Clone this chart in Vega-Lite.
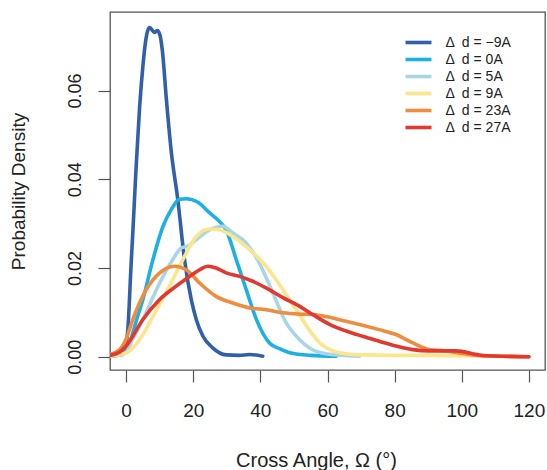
{
  "$schema": "https://vega.github.io/schema/vega-lite/v6.json",
  "autosize": {"type": "none"},
  "width": 435,
  "height": 358,
  "padding": {"left": 110, "top": 12, "right": 2, "bottom": 100},
  "background": "white",
  "config": {
    "font": "Liberation Sans",
    "view": {"stroke": "#555555", "strokeWidth": 1.3}
  },
  "data": {
    "values": [
      {"series": "−9A", "angle": -4.8, "density": 0.0002},
      {"series": "−9A", "angle": -2, "density": 0.0005},
      {"series": "−9A", "angle": -0.5, "density": 0.0015},
      {"series": "−9A", "angle": 0.5, "density": 0.006},
      {"series": "−9A", "angle": 1.5, "density": 0.021},
      {"series": "−9A", "angle": 2.0, "density": 0.028},
      {"series": "−9A", "angle": 3.0, "density": 0.043},
      {"series": "−9A", "angle": 4.0, "density": 0.056},
      {"series": "−9A", "angle": 5.0, "density": 0.0655},
      {"series": "−9A", "angle": 5.7, "density": 0.0705},
      {"series": "−9A", "angle": 6.4, "density": 0.0734},
      {"series": "−9A", "angle": 7.0, "density": 0.0742},
      {"series": "−9A", "angle": 7.8, "density": 0.0736},
      {"series": "−9A", "angle": 8.5, "density": 0.0731},
      {"series": "−9A", "angle": 9.3, "density": 0.0735},
      {"series": "−9A", "angle": 10.0, "density": 0.0727},
      {"series": "−9A", "angle": 10.8, "density": 0.069},
      {"series": "−9A", "angle": 12.0, "density": 0.058},
      {"series": "−9A", "angle": 13.4, "density": 0.0466},
      {"series": "−9A", "angle": 15.4, "density": 0.0354},
      {"series": "−9A", "angle": 17.4, "density": 0.0219},
      {"series": "−9A", "angle": 19.4, "density": 0.0129},
      {"series": "−9A", "angle": 20.9, "density": 0.0084},
      {"series": "−9A", "angle": 22.9, "density": 0.0046},
      {"series": "−9A", "angle": 25.8, "density": 0.002},
      {"series": "−9A", "angle": 29.8, "density": 0.0004},
      {"series": "−9A", "angle": 33.7, "density": 0.0003},
      {"series": "−9A", "angle": 36.8, "density": 0.0005},
      {"series": "−9A", "angle": 40.7, "density": 0.0001},

      {"series": "0A", "angle": -4.8, "density": 0.0001},
      {"series": "0A", "angle": -1, "density": 0.0005},
      {"series": "0A", "angle": 1, "density": 0.003},
      {"series": "0A", "angle": 3, "density": 0.008},
      {"series": "0A", "angle": 5, "density": 0.0129},
      {"series": "0A", "angle": 8, "density": 0.0219},
      {"series": "0A", "angle": 11, "density": 0.0294},
      {"series": "0A", "angle": 13.4, "density": 0.0331},
      {"series": "0A", "angle": 15.9, "density": 0.0355},
      {"series": "0A", "angle": 17.9, "density": 0.0356},
      {"series": "0A", "angle": 21.4, "density": 0.0348},
      {"series": "0A", "angle": 24.9, "density": 0.0324},
      {"series": "0A", "angle": 27.8, "density": 0.0305},
      {"series": "0A", "angle": 29.8, "density": 0.0286},
      {"series": "0A", "angle": 32.8, "density": 0.0219},
      {"series": "0A", "angle": 35.8, "density": 0.0151},
      {"series": "0A", "angle": 38.8, "density": 0.0084},
      {"series": "0A", "angle": 42.7, "density": 0.0031},
      {"series": "0A", "angle": 45.7, "density": 0.0018},
      {"series": "0A", "angle": 48.7, "density": 0.0009},
      {"series": "0A", "angle": 55, "density": 0.0003},
      {"series": "0A", "angle": 62.6, "density": 0.0001},

      {"series": "5A", "angle": -4.8, "density": 0.0001},
      {"series": "5A", "angle": 0, "density": 0.001},
      {"series": "5A", "angle": 2, "density": 0.004},
      {"series": "5A", "angle": 5, "density": 0.0084},
      {"series": "5A", "angle": 10, "density": 0.0166},
      {"series": "5A", "angle": 13.9, "density": 0.0219},
      {"series": "5A", "angle": 16.4, "density": 0.0245},
      {"series": "5A", "angle": 18.4, "density": 0.0249},
      {"series": "5A", "angle": 20.9, "density": 0.0264},
      {"series": "5A", "angle": 24.9, "density": 0.0286},
      {"series": "5A", "angle": 28.8, "density": 0.0294},
      {"series": "5A", "angle": 31.8, "density": 0.0279},
      {"series": "5A", "angle": 35.8, "density": 0.0256},
      {"series": "5A", "angle": 39.7, "density": 0.0211},
      {"series": "5A", "angle": 43.7, "density": 0.0144},
      {"series": "5A", "angle": 47.7, "density": 0.0076},
      {"series": "5A", "angle": 51.6, "density": 0.0039},
      {"series": "5A", "angle": 55, "density": 0.0018},
      {"series": "5A", "angle": 60, "density": 0.0006},
      {"series": "5A", "angle": 69.5, "density": 0.0001},

      {"series": "9A", "angle": -4.8, "density": 0.0001},
      {"series": "9A", "angle": 0, "density": 0.0008},
      {"series": "9A", "angle": 2, "density": 0.002},
      {"series": "9A", "angle": 5, "density": 0.005},
      {"series": "9A", "angle": 8, "density": 0.0091},
      {"series": "9A", "angle": 12.9, "density": 0.0159},
      {"series": "9A", "angle": 16.9, "density": 0.0219},
      {"series": "9A", "angle": 20.9, "density": 0.0271},
      {"series": "9A", "angle": 24.9, "density": 0.0288},
      {"series": "9A", "angle": 27.8, "density": 0.0286},
      {"series": "9A", "angle": 31.8, "density": 0.0271},
      {"series": "9A", "angle": 36.8, "density": 0.0241},
      {"series": "9A", "angle": 41.7, "density": 0.0204},
      {"series": "9A", "angle": 46.7, "density": 0.0151},
      {"series": "9A", "angle": 51.6, "density": 0.0095},
      {"series": "9A", "angle": 54.6, "density": 0.006},
      {"series": "9A", "angle": 57.6, "density": 0.0032},
      {"series": "9A", "angle": 63.5, "density": 0.0009},
      {"series": "9A", "angle": 70, "density": 0.0004},
      {"series": "9A", "angle": 80, "density": 0.0003},
      {"series": "9A", "angle": 90, "density": 0.0003},
      {"series": "9A", "angle": 100, "density": 0.0002},
      {"series": "9A", "angle": 110, "density": 0.0001},
      {"series": "9A", "angle": 120, "density": 0.0},

      {"series": "23A", "angle": -4.8, "density": 0.0005},
      {"series": "23A", "angle": -1.9, "density": 0.0016},
      {"series": "23A", "angle": 0, "density": 0.004},
      {"series": "23A", "angle": 2, "density": 0.0084},
      {"series": "23A", "angle": 6, "density": 0.0151},
      {"series": "23A", "angle": 10, "density": 0.0189},
      {"series": "23A", "angle": 14.4, "density": 0.0204},
      {"series": "23A", "angle": 17.9, "density": 0.0196},
      {"series": "23A", "angle": 21.9, "density": 0.0166},
      {"series": "23A", "angle": 26.8, "density": 0.0136},
      {"series": "23A", "angle": 31.8, "density": 0.0121},
      {"series": "23A", "angle": 36.8, "density": 0.011},
      {"series": "23A", "angle": 41.7, "density": 0.0106},
      {"series": "23A", "angle": 46.7, "density": 0.0099},
      {"series": "23A", "angle": 51.6, "density": 0.0096},
      {"series": "23A", "angle": 55.6, "density": 0.0095},
      {"series": "23A", "angle": 65.5, "density": 0.008},
      {"series": "23A", "angle": 75.4, "density": 0.0061},
      {"series": "23A", "angle": 80.4, "density": 0.005},
      {"series": "23A", "angle": 85.4, "density": 0.0031},
      {"series": "23A", "angle": 90.3, "density": 0.0016},
      {"series": "23A", "angle": 95.3, "density": 0.0013},
      {"series": "23A", "angle": 100.2, "density": 0.0007},
      {"series": "23A", "angle": 105.2, "density": 0.0002},
      {"series": "23A", "angle": 112, "density": 0.0001},
      {"series": "23A", "angle": 120, "density": 0.0},

      {"series": "27A", "angle": -4.8, "density": 0.0003},
      {"series": "27A", "angle": -2, "density": 0.001},
      {"series": "27A", "angle": 0, "density": 0.0024},
      {"series": "27A", "angle": 5, "density": 0.0084},
      {"series": "27A", "angle": 10, "density": 0.0129},
      {"series": "27A", "angle": 14.9, "density": 0.0159},
      {"series": "27A", "angle": 18.9, "density": 0.0181},
      {"series": "27A", "angle": 21.9, "density": 0.0196},
      {"series": "27A", "angle": 24.3, "density": 0.0204},
      {"series": "27A", "angle": 26.8, "density": 0.02},
      {"series": "27A", "angle": 29.8, "density": 0.0189},
      {"series": "27A", "angle": 33.8, "density": 0.0181},
      {"series": "27A", "angle": 37.7, "density": 0.017},
      {"series": "27A", "angle": 41.7, "density": 0.0155},
      {"series": "27A", "angle": 46.7, "density": 0.0133},
      {"series": "27A", "angle": 51.6, "density": 0.0114},
      {"series": "27A", "angle": 55.6, "density": 0.0095},
      {"series": "27A", "angle": 60.6, "density": 0.0073},
      {"series": "27A", "angle": 65.5, "density": 0.0058},
      {"series": "27A", "angle": 70.5, "density": 0.0046},
      {"series": "27A", "angle": 75.4, "density": 0.0035},
      {"series": "27A", "angle": 80.4, "density": 0.0024},
      {"series": "27A", "angle": 85.4, "density": 0.0016},
      {"series": "27A", "angle": 90.3, "density": 0.0013},
      {"series": "27A", "angle": 98.3, "density": 0.0013},
      {"series": "27A", "angle": 105.2, "density": 0.0004},
      {"series": "27A", "angle": 112, "density": 0.0001},
      {"series": "27A", "angle": 120, "density": 0.0}
    ]
  },
  "mark": {"type": "line", "strokeWidth": 3.6, "interpolate": "monotone", "clip": true, "strokeCap": "round"},
  "encoding": {
    "x": {
      "field": "angle",
      "type": "quantitative",
      "scale": {"domain": [-4.8, 124.8], "nice": false, "zero": false},
      "axis": {
        "title": "Cross Angle, Ω (°)",
        "values": [0, 20, 40, 60, 80, 100, 120],
        "grid": false,
        "domain": false,
        "tickSize": 12,
        "tickColor": "#555555",
        "tickWidth": 1.2,
        "labelFontSize": 19,
        "labelColor": "#222222",
        "labelPadding": 19,
        "labelFlush": false,
        "titleFontSize": 20,
        "titleFontWeight": "normal",
        "titleColor": "#222222",
        "titleBaseline": "alphabetic",
        "titleY": 96,
        "titleX": 206
      }
    },
    "y": {
      "field": "density",
      "type": "quantitative",
      "scale": {"domain": [-0.003, 0.0777], "nice": false, "zero": false},
      "axis": {
        "title": "Probability Density",
        "values": [0, 0.02, 0.04, 0.06],
        "format": ".2f",
        "grid": false,
        "domain": false,
        "tickSize": 12,
        "tickColor": "#555555",
        "tickWidth": 1.2,
        "labelFontSize": 18,
        "labelColor": "#222222",
        "labelAngle": -90,
        "labelAlign": "center",
        "labelBaseline": "alphabetic",
        "labelPadding": 18,
        "labelFlush": false,
        "titleFontSize": 19,
        "titleFontWeight": "normal",
        "titleColor": "#222222",
        "titleAngle": -90,
        "titleAlign": "center",
        "titleBaseline": "alphabetic",
        "titleX": -86,
        "titleY": 179
      }
    },
    "color": {
      "field": "series",
      "type": "nominal",
      "scale": {
        "domain": ["−9A", "0A", "5A", "9A", "23A", "27A"],
        "range": ["#3160ab", "#1cb0e4", "#a9d6e5", "#fde58c", "#f08c3e", "#e2382e"]
      },
      "legend": {
        "title": null,
        "orient": "none",
        "legendX": 300,
        "legendY": 22,
        "padding": 0,
        "symbolType": "M-2,0H2",
        "symbolSize": 169,
        "symbolStrokeWidth": 3.6,
        "rowPadding": 1,
        "labelFontSize": 14,
        "labelColor": "#222222",
        "labelOffset": 18.5,
        "labelExpr": "'Δ\u2002d = ' + datum.label"
      }
    }
  }
}
